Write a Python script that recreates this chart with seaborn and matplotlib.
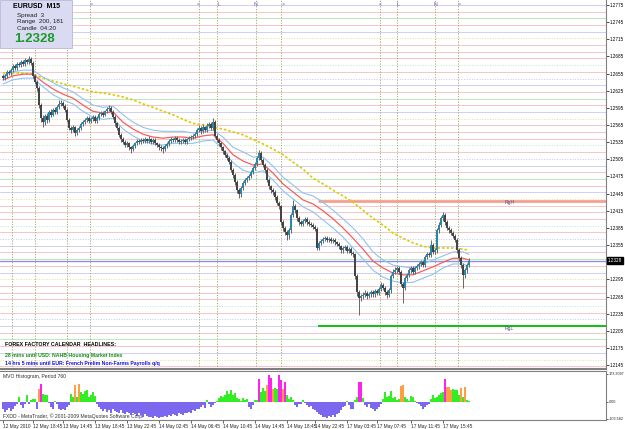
import numpy as np
import pandas as pd
import matplotlib
matplotlib.use("Agg")
import matplotlib.pyplot as plt
from matplotlib.patches import Rectangle
import seaborn as sns

# ---------------- data (EURUSD M15) ----------------
first_open = 1.2651
closes = [
    1.2647, 1.2651, 1.2658, 1.2656, 1.2661, 1.2668, 1.2665, 1.2672, 1.2670, 1.2675,
    1.2672, 1.2679, 1.2675, 1.2681, 1.2674, 1.2651, 1.2640, 1.2630, 1.2600, 1.2577,
    1.2570, 1.2581, 1.2574, 1.2588, 1.2583, 1.2591, 1.2588, 1.2596, 1.2602, 1.2604,
    1.2598, 1.2591, 1.2574, 1.2560, 1.2556, 1.2561, 1.2551, 1.2556, 1.2560, 1.2567,
    1.2570, 1.2574, 1.2577, 1.2572, 1.2575, 1.2579, 1.2572, 1.2577, 1.2584, 1.2586,
    1.2583, 1.2589, 1.2593, 1.2595, 1.2588, 1.2579, 1.2568, 1.2560, 1.2548, 1.2540,
    1.2535, 1.2530, 1.2533, 1.2526, 1.2523, 1.2528, 1.2533, 1.2537, 1.2535, 1.2539,
    1.2537, 1.2540, 1.2537, 1.2540, 1.2535, 1.2539, 1.2533, 1.2530, 1.2526, 1.2525,
    1.2523, 1.2528, 1.2532, 1.2537, 1.2540, 1.2539, 1.2542, 1.2539, 1.2535, 1.2537,
    1.2539, 1.2535, 1.2540, 1.2542, 1.2544, 1.2546, 1.2549, 1.2556, 1.2560, 1.2554,
    1.2561, 1.2556, 1.2563, 1.2567, 1.2560, 1.2570, 1.2546, 1.2539, 1.2533, 1.2526,
    1.2519, 1.2513, 1.2507, 1.2500, 1.2486, 1.2478, 1.2465, 1.2451, 1.2444, 1.2455,
    1.2464, 1.2469, 1.2472, 1.2476, 1.2483, 1.2490, 1.2497, 1.2507, 1.2516, 1.2504,
    1.2495, 1.2486, 1.2469, 1.2458, 1.2451, 1.2448, 1.2439, 1.2429, 1.2423, 1.2395,
    1.2385, 1.2378, 1.2373, 1.2381, 1.2408, 1.2423, 1.2416, 1.2402, 1.2395, 1.2392,
    1.2397, 1.2401, 1.2395, 1.2392, 1.2390, 1.2387, 1.2383, 1.2350, 1.2359, 1.2362,
    1.2366, 1.2367, 1.2364, 1.2366, 1.2362, 1.2364, 1.2360, 1.2357, 1.2353, 1.2346,
    1.2350, 1.2352, 1.2345, 1.2348, 1.2341, 1.2339, 1.2301, 1.2273, 1.2262, 1.2266,
    1.2268, 1.2271, 1.2266, 1.2269, 1.2273, 1.2269, 1.2275, 1.2271, 1.2278, 1.2285,
    1.2280, 1.2273, 1.2268, 1.2276, 1.2301, 1.2308, 1.2311, 1.2315, 1.2308, 1.2287,
    1.2280, 1.2297, 1.2303, 1.2311, 1.2315, 1.2308, 1.2315, 1.2318, 1.2322, 1.2325,
    1.2320, 1.2334, 1.2339, 1.2338, 1.2355, 1.2343, 1.2346, 1.2381, 1.2390, 1.2402,
    1.2408, 1.2395, 1.2385, 1.2381, 1.2376, 1.2371, 1.2364, 1.2346, 1.2332, 1.2320,
    1.2303, 1.2311, 1.2320, 1.2328,
]
highs = [
    1.2655, 1.2654, 1.2661, 1.2662, 1.2664, 1.2671, 1.2672, 1.2676, 1.2675, 1.2679,
    1.2678, 1.2682, 1.2681, 1.2686, 1.2684, 1.2677, 1.2655, 1.2643, 1.2633, 1.2603,
    1.2582, 1.2585, 1.2586, 1.2592, 1.2593, 1.2595, 1.2596, 1.2600, 1.2609, 1.2608,
    1.2607, 1.2601, 1.2594, 1.2577, 1.2564, 1.2565, 1.2564, 1.2559, 1.2563, 1.2570,
    1.2574, 1.2577, 1.2581, 1.2580, 1.2579, 1.2582, 1.2582, 1.2580, 1.2588, 1.2590,
    1.2589, 1.2592, 1.2597, 1.2600, 1.2598, 1.2591, 1.2582, 1.2571, 1.2563, 1.2551,
    1.2544, 1.2538, 1.2537, 1.2536, 1.2529, 1.2531, 1.2536, 1.2540, 1.2541, 1.2543,
    1.2542, 1.2544, 1.2543, 1.2545, 1.2543, 1.2542, 1.2542, 1.2536, 1.2533, 1.2530,
    1.2528, 1.2531, 1.2535, 1.2540, 1.2544, 1.2543, 1.2546, 1.2545, 1.2542, 1.2540,
    1.2542, 1.2542, 1.2543, 1.2546, 1.2548, 1.2550, 1.2553, 1.2560, 1.2565, 1.2563,
    1.2566, 1.2564, 1.2568, 1.2571, 1.2570, 1.2577, 1.2573, 1.2549, 1.2542, 1.2536,
    1.2529, 1.2522, 1.2516, 1.2510, 1.2503, 1.2489, 1.2481, 1.2468, 1.2455, 1.2459,
    1.2467, 1.2473, 1.2476, 1.2480, 1.2487, 1.2494, 1.2501, 1.2511, 1.2521, 1.2519,
    1.2508, 1.2498, 1.2489, 1.2472, 1.2461, 1.2455, 1.2451, 1.2442, 1.2432, 1.2426,
    1.2399, 1.2389, 1.2382, 1.2385, 1.2412, 1.2434, 1.2427, 1.2419, 1.2406, 1.2399,
    1.2401, 1.2405, 1.2404, 1.2399, 1.2396, 1.2393, 1.2390, 1.2386, 1.2363, 1.2366,
    1.2370, 1.2371, 1.2371, 1.2370, 1.2369, 1.2368, 1.2367, 1.2363, 1.2360, 1.2356,
    1.2354, 1.2356, 1.2355, 1.2352, 1.2351, 1.2345, 1.2342, 1.2304, 1.2277, 1.2270,
    1.2273, 1.2276, 1.2275, 1.2273, 1.2277, 1.2277, 1.2279, 1.2279, 1.2282, 1.2290,
    1.2289, 1.2284, 1.2277, 1.2280, 1.2305, 1.2313, 1.2316, 1.2319, 1.2319, 1.2311,
    1.2291, 1.2301, 1.2307, 1.2315, 1.2319, 1.2319, 1.2319, 1.2322, 1.2326, 1.2329,
    1.2329, 1.2338, 1.2343, 1.2343, 1.2364, 1.2359, 1.2350, 1.2385, 1.2395, 1.2406,
    1.2413, 1.2411, 1.2399, 1.2389, 1.2385, 1.2380, 1.2375, 1.2368, 1.2350, 1.2336,
    1.2324, 1.2315, 1.2324, 1.2332,
]
lows = [
    1.2643, 1.2644, 1.2648, 1.2653, 1.2653, 1.2658, 1.2662, 1.2662, 1.2666, 1.2667,
    1.2669, 1.2669, 1.2672, 1.2672, 1.2670, 1.2647, 1.2636, 1.2625, 1.2595, 1.2570,
    1.2561, 1.2565, 1.2568, 1.2571, 1.2579, 1.2580, 1.2584, 1.2585, 1.2593, 1.2598,
    1.2594, 1.2587, 1.2570, 1.2556, 1.2551, 1.2552, 1.2546, 1.2548, 1.2553, 1.2557,
    1.2564, 1.2567, 1.2571, 1.2568, 1.2569, 1.2572, 1.2568, 1.2569, 1.2574, 1.2580,
    1.2579, 1.2580, 1.2586, 1.2589, 1.2584, 1.2575, 1.2564, 1.2556, 1.2544, 1.2536,
    1.2531, 1.2526, 1.2527, 1.2522, 1.2516, 1.2520, 1.2525, 1.2530, 1.2531, 1.2532,
    1.2533, 1.2534, 1.2533, 1.2534, 1.2531, 1.2532, 1.2530, 1.2526, 1.2522, 1.2520,
    1.2516, 1.2520, 1.2525, 1.2529, 1.2534, 1.2535, 1.2536, 1.2535, 1.2531, 1.2532,
    1.2534, 1.2531, 1.2532, 1.2537, 1.2539, 1.2541, 1.2543, 1.2546, 1.2553, 1.2550,
    1.2551, 1.2552, 1.2553, 1.2559, 1.2556, 1.2557, 1.2542, 1.2535, 1.2529, 1.2522,
    1.2515, 1.2509, 1.2503, 1.2496, 1.2482, 1.2473, 1.2460, 1.2446, 1.2437, 1.2440,
    1.2451, 1.2460, 1.2465, 1.2468, 1.2473, 1.2480, 1.2487, 1.2494, 1.2504, 1.2500,
    1.2491, 1.2482, 1.2465, 1.2454, 1.2446, 1.2443, 1.2434, 1.2425, 1.2418, 1.2390,
    1.2380, 1.2373, 1.2364, 1.2366, 1.2377, 1.2404, 1.2411, 1.2398, 1.2391, 1.2388,
    1.2388, 1.2393, 1.2391, 1.2388, 1.2386, 1.2383, 1.2379, 1.2346, 1.2346, 1.2355,
    1.2358, 1.2362, 1.2360, 1.2360, 1.2358, 1.2358, 1.2356, 1.2353, 1.2349, 1.2342,
    1.2342, 1.2346, 1.2341, 1.2341, 1.2337, 1.2334, 1.2296, 1.2266, 1.2233, 1.2257,
    1.2261, 1.2264, 1.2261, 1.2262, 1.2265, 1.2264, 1.2265, 1.2267, 1.2267, 1.2274,
    1.2276, 1.2268, 1.2262, 1.2264, 1.2272, 1.2297, 1.2304, 1.2307, 1.2304, 1.2283,
    1.2254, 1.2276, 1.2293, 1.2299, 1.2307, 1.2304, 1.2304, 1.2311, 1.2314, 1.2318,
    1.2316, 1.2316, 1.2330, 1.2334, 1.2334, 1.2339, 1.2339, 1.2342, 1.2377, 1.2386,
    1.2398, 1.2391, 1.2381, 1.2377, 1.2372, 1.2367, 1.2360, 1.2342, 1.2328, 1.2315,
    1.2280, 1.2298, 1.2306, 1.2316,
]

# moving averages (sampled every 5 bars)
ma_bars = [0, 5, 10, 15, 20, 25, 30, 35, 40, 45, 50, 55, 60, 65, 70, 75, 80, 85, 90, 95,
           100, 105, 110, 115, 120, 125, 130, 135, 140, 145, 150, 155, 160, 165, 170, 175,
           180, 185, 190, 195, 200, 205, 210, 215, 220, 225, 230, 233]
ma_mid = [1.2644, 1.2651, 1.2654, 1.2654, 1.2640, 1.2628, 1.2619, 1.2612, 1.2600, 1.2589,
          1.2586, 1.2588, 1.2570, 1.2558, 1.2549, 1.2544, 1.2542, 1.2544, 1.2544, 1.2542,
          1.2546, 1.2548, 1.2533, 1.2513, 1.2502, 1.2495, 1.2497, 1.2481, 1.2462, 1.2448,
          1.2434, 1.2427, 1.2415, 1.2401, 1.2385, 1.2367, 1.2348, 1.2327, 1.2315, 1.2306,
          1.2303, 1.2303, 1.2310, 1.2317, 1.2325, 1.2332, 1.2332, 1.2329]
band_up = [1.2651, 1.2658, 1.2661, 1.2661, 1.2649, 1.2639, 1.2630, 1.2623, 1.2611, 1.2600,
           1.2596, 1.2598, 1.2583, 1.2570, 1.2561, 1.2556, 1.2554, 1.2554, 1.2554, 1.2551,
           1.2554, 1.2556, 1.2544, 1.2526, 1.2518, 1.2509, 1.2509, 1.2493, 1.2474, 1.2460,
           1.2446, 1.2441, 1.2430, 1.2416, 1.2401, 1.2385, 1.2366, 1.2343, 1.2329, 1.2320,
           1.2317, 1.2315, 1.2322, 1.2329, 1.2336, 1.2343, 1.2343, 1.2339]
band_dn = [1.2637, 1.2644, 1.2647, 1.2647, 1.2632, 1.2618, 1.2609, 1.2602, 1.2589, 1.2579,
           1.2575, 1.2577, 1.2558, 1.2546, 1.2537, 1.2532, 1.2530, 1.2533, 1.2533, 1.2533,
           1.2537, 1.2539, 1.2523, 1.2499, 1.2486, 1.2481, 1.2485, 1.2469, 1.2450, 1.2436,
           1.2422, 1.2413, 1.2399, 1.2385, 1.2369, 1.2350, 1.2331, 1.2311, 1.2299, 1.2292,
           1.2289, 1.2290, 1.2297, 1.2304, 1.2315, 1.2322, 1.2322, 1.2318]
ma_slow = [1.2656, 1.2656, 1.2656, 1.2654, 1.2647, 1.2642, 1.2637, 1.2633, 1.2628, 1.2623,
           1.2621, 1.2618, 1.2614, 1.2609, 1.2602, 1.2596, 1.2589, 1.2583, 1.2575, 1.2568,
           1.2565, 1.2561, 1.2558, 1.2553, 1.2548, 1.2540, 1.2532, 1.2523, 1.2513, 1.2500,
           1.2488, 1.2472, 1.2462, 1.2451, 1.2441, 1.2430, 1.2416, 1.2402, 1.2390, 1.2376,
           1.2367, 1.2359, 1.2353, 1.2350, 1.2350, 1.2350, 1.2348, 1.2346]

# MVO histogram: value per bar and colour class (n=neg, g=green, o=orange, m=magenta)
hist_vals = [
    -45, -60, -50, -35, -55, -40, -25, -15, 30, -20,
    -35, -10, 40, -15, 15, 20, 20, -40, 80, 110,
    50, 40, 45, -5, -30, -45, 8, -10, -45, -50,
    -40, -50, -30, -20, 50, 30, 105, 30, 110, 60,
    50, 70, 75, 30, 40, 60, 35, -10, -30, -45,
    -55, -40, -60, -50, -65, -45, -55, -60, -70, -50,
    -65, -75, -60, -70, -80, -65, -75, -85, -70, -80,
    -90, -75, -85, -95, -90, -100, -85, -95, -100, -90,
    -95, -85, -90, -80, -85, -75, -80, -85, -70, -75,
    -80, -65, -70, -60, -65, -50, -55, -40, -45, -30,
    -20, -35, 15, -10, -30, -20, -5, 5, 25, 35,
    30, 45, 70, 50, 75, 40, 55, 25, 20, 5,
    25, 10, 20, -30, -45, -20, 10, 15, 140, 60,
    85, 70, 105, 165, 150, 80, 85, 80, 165, 135,
    80, 125, 45, 20, 30, 15, -20, -30, -15, -10,
    15, -5, -20, -30, -25, -45, -50, -60, -75, -80,
    -95, -90, -100, -85, -95, -80, -90, -75, -65, -50,
    -30, -25, 8, -20, -40, -45, 10, 30, 125, 120,
    25, -20, -30, -15, -35, -45, -55, -40, -30, -15,
    20, 60, 30, 35, 70, 25, 30, 15, 20, 100,
    105, 30, 20, 5, 35, 30, 5, -5, -15, -25,
    -45, -30, -20, -10, 20, 45, 25, 30, 45, 55,
    60, 140, 95, 90, 75, 80, 75, 75, 40, 85,
    30, 95, 10, 5,
]
hist_cls = ("nnnnnnnngn nngngggnom gggnnngnnn nnnnggogog gggggggnnn "
            "nnnnnnnnnn nnnnnnnnnn nnnnnnnnnn nnnnnnnnnn nnnnnnnnnn "
            "nngnnnnggg gggggggggg gggnnnggmg ggommoggmm omggggnnnn "
            "gnnnnnnnnn nnnnnnnnnn nngnnnggmm gnnnnnnnnn gggggggggo "
            "oggggggnnn nnnngggggg gmoooggggo gogg").replace(" ", "")

price_ticks = [1.2775, 1.2745, 1.2715, 1.2685, 1.2655, 1.2625, 1.2595, 1.2565, 1.2535,
               1.2505, 1.2475, 1.2445, 1.2415, 1.2385, 1.2355, 1.2295, 1.2265, 1.2235,
               1.2205, 1.2175, 1.2145]
time_tick_bars = [0, 15, 30, 46, 62, 78, 94, 110, 126, 142, 156, 172, 187, 204, 220]
time_labels = ["12 May 2010", "12 May 18:45", "13 May 14:45", "13 May 18:45", "13 May 22:45",
               "14 May 02:45", "14 May 06:45", "14 May 10:45", "14 May 14:45", "14 May 18:45",
               "14 May 22:45", "17 May 03:45", "17 May 07:45", "17 May 11:45", "17 May 15:45"]
session_bars = [4.5, 16, 32, 43.5, 98, 107, 126.5, 139, 188.5, 197, 216, 227.5]
session_marks = [(44, ">"), (97.5, "<"), (108, "L"), (126.5, "N"), (140, ">"),
                 (188.5, "<"), (197.5, "L"), (216.5, "N"), (228, ">")]
current_price = 1.2328
range_high = 1.2433
range_low = 1.2214
range_start = 157.5

# ---------------- style ----------------
sns.set_style("white")
plt.rcParams["font.family"] = ["Liberation Sans", "DejaVu Sans"]

W, H = 625, 429
fig = plt.figure(figsize=(W / 100, H / 100), dpi=100)
fig.patch.set_facecolor("white")


def box(x0, y0, w, h):
    return [x0 / W, 1 - (y0 + h) / H, w / W, h / H]


ax = fig.add_axes(box(0, 0, 606, 369))
axh = fig.add_axes(box(0, 371, 606, 49), sharex=ax)
for a in (ax, axh):
    a.set_facecolor("white")

n = len(closes)
bars = np.arange(n)
c = np.array(closes)
o = np.array([first_open] + closes[:-1])
hi = np.maximum(np.array(highs), np.maximum(o, c))
lo = np.minimum(np.array(lows), np.minimum(o, c))

ax.set_xlim(-1.5, 301.5)
ax.set_ylim(1.21383, 1.27837)

# faint pivot levels
lvl_styles = [("#cfcff5", "-"), ("#f6c6c6", "-"), ("#bfe8bf", "-"), ("#f6c6c6", "-"),
              ("#cfcff5", "-"), ("#e8e090", ":"), ("#f6c6c6", "-"), ("#f6c6c6", "-"),
              ("#f6c6c6", "-"), ("#bfe8bf", ":"), ("#f6c6c6", "-"), ("#c6c6f0", ":")]
for k in range(-1, 56):
    col, ls = lvl_styles[k % len(lvl_styles)]
    ax.axhline(1.2775 - k * 0.00117, color=col, lw=0.7, ls=ls, zorder=0)

# session separators
for sb in session_bars:
    ax.axvline(sb, color="#a8a870", lw=0.7, ls=(0, (1.2, 1.6)), zorder=1)
for sb, ch in session_marks:
    ax.text(sb, 1.2776, ch, fontsize=3.8, color="#8050c0", ha="center", va="center", zorder=6)

# range lines
ax.hlines(range_high, range_start, 301.5, color="#f4a090", lw=2.0, zorder=2)
ax.hlines(range_low, range_start, 301.5, color="#10c010", lw=1.4, zorder=2)
ax.text(251, range_high - 0.0004, "RgH", fontsize=3.6, color="#505080", va="center", zorder=6)
ax.text(251, range_low - 0.0004, "RgL", fontsize=3.6, color="#505080", va="center", zorder=6)

# current price line
ax.axhline(current_price, color="#9090e0", lw=1.0, zorder=2)

# moving averages via seaborn
df_ma = pd.DataFrame({"bar": ma_bars, "mid": ma_mid, "up": band_up, "dn": band_dn, "slow": ma_slow})
sns.lineplot(data=df_ma, x="bar", y="slow", ax=ax, color="#d8cc00", linewidth=1.2,
             linestyle=(0, (1.5, 1.2)), zorder=3)
sns.lineplot(data=df_ma, x="bar", y="up", ax=ax, color="#8cc4f0", linewidth=0.8, zorder=3)
sns.lineplot(data=df_ma, x="bar", y="dn", ax=ax, color="#8cc4f0", linewidth=0.8, zorder=3)
sns.lineplot(data=df_ma, x="bar", y="mid", ax=ax, color="#f06060", linewidth=0.9, zorder=3)

# candles
ax.vlines(bars, lo, hi, color="#666666", lw=0.7, zorder=4)
body_bottom = np.minimum(o, c)
body_h = np.maximum(np.abs(c - o), 0.00005)
body_col = ["#2b86a8" if cc >= oo else "#444444" for oo, cc in zip(o, c)]
ax.bar(bars, body_h, bottom=body_bottom, width=1.0, color=body_col, lw=0, zorder=5)

# axes styling main
ax.set_xlabel("")
ax.set_ylabel("")
ax.yaxis.tick_right()
ax.set_yticks(price_ticks)
ax.set_yticklabels([f"{p:.4f}" for p in price_ticks])
ax.tick_params(axis="y", labelsize=3.3, length=2, width=0.5, pad=1.0, colors="black", right=True)
ax.tick_params(axis="x", bottom=False, labelbottom=False)
for s in ("top", "left"):
    ax.spines[s].set_visible(False)
ax.spines["right"].set_color("#808080")
ax.spines["right"].set_linewidth(0.8)
ax.spines["bottom"].set_color("#808080")
ax.spines["bottom"].set_linewidth(1.5)

ax.text(1.0035, current_price, f"{current_price:.4f}", transform=ax.get_yaxis_transform(),
        fontsize=3.3, color="white", va="center", ha="left", zorder=10, clip_on=False,
        bbox=dict(boxstyle="square,pad=0.15", fc="black", ec="black"))

# histogram
cmap = {"n": "#7b68ee", "g": "#33ee22", "o": "#ffa040", "m": "#ff22ee"}
axh.bar(bars, hist_vals, width=0.75, color=[cmap[k] for k in hist_cls], lw=0, zorder=3)
axh.set_ylim(-110.7, 190.6)
axh.yaxis.tick_right()
axh.set_yticks([173.3097, 0.0, -103.582])
axh.set_yticklabels(["173.3097", "0.00", "-103.582"])
axh.tick_params(axis="y", labelsize=2.7, length=1.5, width=0.5, pad=0.5)
axh.set_xticks(time_tick_bars)
axh.set_xticklabels(time_labels, ha="left")
axh.tick_params(axis="x", labelsize=3.4, length=2, width=0.5, pad=1.0, bottom=True)
for s in ("left",):
    axh.spines[s].set_visible(False)
for s in ("right", "bottom", "top"):
    axh.spines[s].set_color("#808080")
    axh.spines[s].set_linewidth(0.8)
axh.set_xlabel("")
axh.set_ylabel("")
axh.text(0.005, 0.88, "MVO Histogram, Period 760", transform=axh.transAxes, fontsize=3.6,
         color="#303030", va="center", ha="left")
axh.text(0.005, 0.08, "FXDD - MetaTrader, \u00a9 2001-2009 MetaQuotes Software Corp.",
         transform=axh.transAxes, fontsize=3.6, color="#303030", va="center", ha="left")

# info box
fig.add_artist(Rectangle((0, 1 - 48 / H), 72 / W, 48 / H, transform=fig.transFigure,
                         fc="#dadaf2", ec="#b8b8d8", lw=0.6, zorder=20))
fig.text(13 / W, 1 - 6 / H, "EURUSD  M15", fontsize=5, fontweight="bold", color="black",
         va="center", ha="left", zorder=21)
fig.text(17 / W, 1 - 15 / H, "Spread  3", fontsize=4.5, color="#202020", va="center", zorder=21)
fig.text(17 / W, 1 - 21.5 / H, "Range  200, 181", fontsize=4.5, color="#202020", va="center", zorder=21)
fig.text(17 / W, 1 - 28 / H, "Candle  04:20", fontsize=4.5, color="#202020", va="center", zorder=21)
fig.text(14 / W, 1 - 39 / H, f"{current_price:.4f}", fontsize=9.5, fontweight="bold",
         color="#1a9a2a", va="center", ha="left", zorder=21)

# calendar headlines
fig.text(5 / W, 1 - 345 / H, "FOREX FACTORY CALENDAR  HEADLINES:", fontsize=3.8,
         fontweight="bold", color="black", va="center", ha="left", zorder=21)
fig.text(5 / W, 1 - 355 / H, "28 mins until USD: NAHB Housing Market Index", fontsize=3.7,
         fontweight="bold", color="#109010", va="center", ha="left", zorder=21)
fig.text(5 / W, 1 - 363 / H, "14 hrs 5 mins until EUR: French Prelim Non-Farms Payrolls q/q",
         fontsize=3.7, fontweight="bold", color="#1010e0", va="center", ha="left", zorder=21)

fig.savefig("out.png", dpi=100, facecolor="white")
